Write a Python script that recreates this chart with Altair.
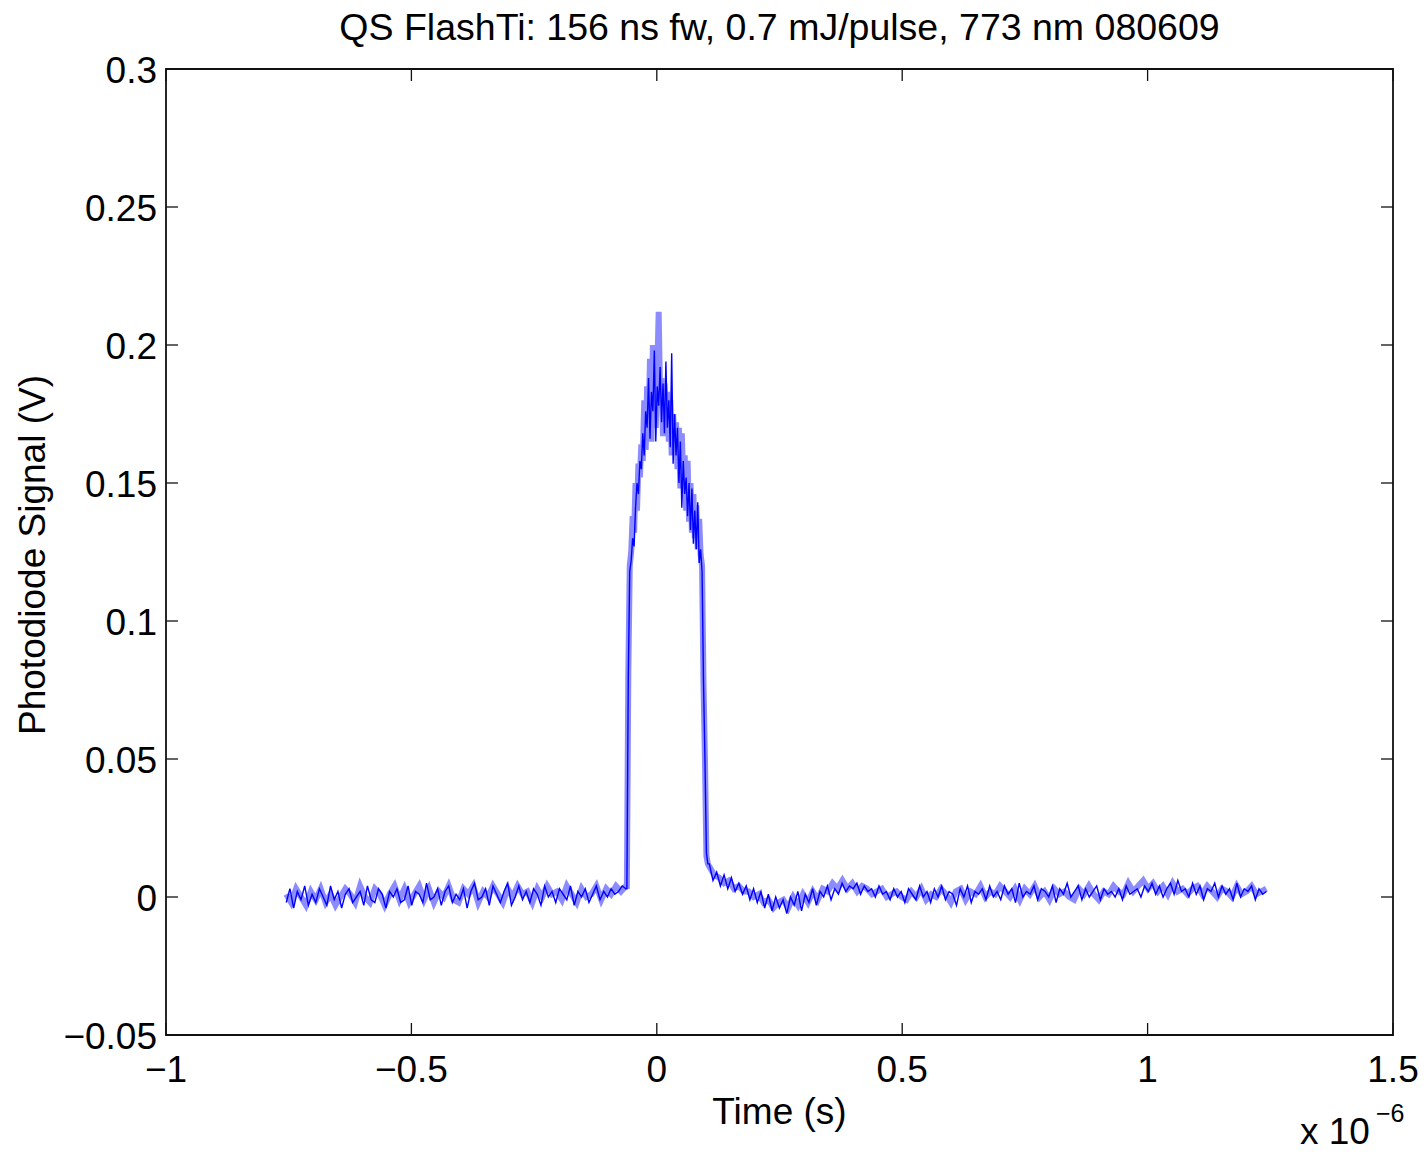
import altair as alt
import numpy as np
import pandas as pd

TITLE = "QS FlashTi: 156 ns fw, 0.7 mJ/pulse, 773 nm 080609"
X_TITLE = "Time (s)"
Y_TITLE = "Photodiode Signal (V)"
X_TICKS = [-1, -0.5, 0, 0.5, 1, 1.5]
Y_TICKS = [-0.05, 0, 0.05, 0.1, 0.15, 0.2, 0.25, 0.3]
X_DOMAIN = [-1, 1.5]
Y_DOMAIN = [-0.05, 0.3]
EXP_BASE = "x 10"
EXP_SUP = "\u22126"

# time spans of the three parts of the trace (units of 1e-6 s)
PRE_SPAN = (-0.755, -0.063)
PULSE_SPAN = (-0.061, 0.104)
POST_SPAN = (0.107, 1.242)

# dark (raw) trace, values in mV
dark_pre_mv = [-2, 3, -4, 2, -1, 4, -3, 1, -2, 3, 0, -3, 4, -1, 2, -4, 1, 3, -2, 0,
               2, -3, 4, -1, -2, 3, 1, -4, 2, 0, 3, -2, -1, 4, -3, 2, 1, -2, 5, -1,
               0, 3, -3, 2, 4, -2, 1, -1, 3, -4, 2, 5, -1, 0, 3, -3, 4, 1, -2, 2,
               5, -3, 0, 4, -1, 2, -2, 3, 1, -3, 4, 0, 2, -2, 3, 1, -1, 4, -3, 2,
               0, 3, -2, 1, 4, -1, 2, 0, 3, 1, 2, 4, 3]
dark_pulse_mv = [3, 80, 118, 122, 130, 127, 141, 150, 146, 158, 155, 168, 160, 176, 170,
                 188, 166, 183, 176, 198, 165, 185, 178, 192, 172, 186, 168, 194, 170, 180,
                 163, 197, 157, 175, 160, 170, 150, 165, 141, 158, 146, 152, 138, 150, 133,
                 148, 128, 140, 126, 143, 121, 126, 118, 78, 50, 16, 12]
dark_post_mv = [12, 6, 9, 4, 8, 3, 7, 2, 5, 1, 4, -1, 3, -2, 2, -4, 1, -5, 0,
                -4, -1, -6, 0, -3, 2, -5, 1, -2, 3, -3, 2, 0, 4, -1, 3, 1, 5, 2, 4,
                3, 5, 1, 4, 2, 3, 0, 4, 1, 2, -1, 3, 0, 2, -2, 3, 1, -1, 4, 0,
                2, -2, 3, 0, 4, -1, 2, 1, -3, 3, 0, 4, -2, 2, 1, 3, -1, 4, 0, 2,
                -1, 4, 1, 3, -2, 5, 0, 2, 1, 4, -1, 3, 2, 0, 4, -2, 3, 1, 5, 0,
                2, 4, -1, 3, 0, 2, 4, -1, 3, 1, 2, 0, 3, -1, 4, 1, 2, 3, 0, 4,
                2, 5, 1, 4, 0, 3, 5, 1, 6, 2, 3, 0, 5, 1, 4, -1, 3, 2, 5, 0,
                4, 1, 3, -1, 5, 0, 3, 2, 4, -1, 3, 1, 2]

# light (broad) trace, values in mV
light_pre_mv = [1, -2, 3, 0, -3, 2, -1, 3, -2, 1, -3, 0, 3, 1, -2, 4, 0, -2, 3, 1,
                -3, 1, 4, -1, 3, -2, 1, 4, -1, 3, -2, 2, 0, 4, -1, -2, 3, 1, 4, -2,
                2, 0, 4, 1, -2, 3, 0, 4, 1, 2, -2, 3, 0, 4, 1, 2, -1, 4, 1, -2,
                3, 0, 1, 4, -1, 3, 1, 4, 2, 4]
light_pulse_mv = [3, 80, 120, 125, 138, 132, 150, 140, 157, 152, 164, 158, 180, 162, 185,
                  172, 195, 165, 200, 178, 170, 190, 212, 180, 188, 167, 186, 170, 183, 165,
                  180, 160, 175, 162, 172, 155, 170, 148, 168, 150, 160, 140, 158, 136, 150,
                  132, 146, 130, 142, 126, 137, 124, 120, 77, 50, 15, 12]
light_post_mv = [11, 8, 7, 5, 6, 3, 4, 2, 2, 0, 1, -2, -1, -4, -2, -1, -4, 0, -3, 1,
                 -2, 2, -1, 3, 2, 5, 3, 6, 3, 5, 2, 4, 3, 1, 2, 3, 0, 1, 2, 0,
                 -1, 2, 0, 3, -1, 1, 0, 3, 1, -2, 2, 3, -1, 2, 1, 4, 0, 2, 1, 4,
                 2, 0, 3, -1, 3, 1, 4, 0, 2, -1, 3, 1, 2, 0, -1, 3, 1, 4, 1, -1,
                 2, 1, 4, 2, 1, 5, 2, 4, 6, 3, 5, 2, 4, 1, 5, 2, 3, 1, 3, 4,
                 1, 4, 2, 0, 3, 2, 0, 4, 1, 2, 4, 1, 2, 3]


def build(parts, name):
    rows = []
    for span, vals in parts:
        ts = np.linspace(span[0], span[1], len(vals))
        for t, v in zip(ts, vals):
            rows.append({"t": float(t), "v": v / 1000.0, "s": name})
    return rows


df_dark = pd.DataFrame(build([(PRE_SPAN, dark_pre_mv), (PULSE_SPAN, dark_pulse_mv),
                              (POST_SPAN, dark_post_mv)], "dark"))
df_light = pd.DataFrame(build([(PRE_SPAN, light_pre_mv), (PULSE_SPAN, light_pulse_mv),
                               (POST_SPAN, light_post_mv)], "light"))

W, H = 1227, 966
FONT = "Liberation Sans"
FS = 37
TICK_LEN = 12

xs = alt.Scale(domain=X_DOMAIN, nice=False, zero=False)
ys = alt.Scale(domain=Y_DOMAIN, nice=False, zero=False)

light = alt.Chart(df_light).mark_line(color="#0000ff", opacity=0.45, strokeWidth=6,
                                      clip=True).encode(
    x=alt.X("t:Q", scale=xs, axis=None),
    y=alt.Y("v:Q", scale=ys, axis=None),
)
dark = alt.Chart(df_dark).mark_line(color="#0000ff", strokeWidth=1.4, clip=True).encode(
    x=alt.X("t:Q", scale=xs, axis=None),
    y=alt.Y("v:Q", scale=ys, axis=None),
)

xt = pd.DataFrame({"t": X_TICKS})
yt = pd.DataFrame({"v": Y_TICKS})
tick_style = dict(color="#111111", strokeWidth=1.3)
xb = alt.Chart(xt).mark_rule(**tick_style).encode(
    x=alt.X("t:Q", scale=xs, axis=None), y=alt.value(H), y2=alt.value(H - TICK_LEN))
xtp = alt.Chart(xt).mark_rule(**tick_style).encode(
    x=alt.X("t:Q", scale=xs, axis=None), y=alt.value(0), y2=alt.value(TICK_LEN))
yl = alt.Chart(yt).mark_rule(**tick_style).encode(
    y=alt.Y("v:Q", scale=ys, axis=None), x=alt.value(0), x2=alt.value(TICK_LEN))
yr = alt.Chart(yt).mark_rule(**tick_style).encode(
    y=alt.Y("v:Q", scale=ys, axis=None), x=alt.value(W), x2=alt.value(W - TICK_LEN))

txt = dict(font=FONT, fontSize=FS, color="black")

# tick labels
x_labels = alt.Chart(xt).mark_text(align="center", baseline="alphabetic", **txt).encode(
    x=alt.X("t:Q", scale=xs, axis=None), y=alt.value(H + 47),
    text=alt.Text("t:Q", format="~g"))
y_labels = alt.Chart(yt).mark_text(align="right", baseline="alphabetic", dy=14,
                                   **txt).encode(
    y=alt.Y("v:Q", scale=ys, axis=None), x=alt.value(-9),
    text=alt.Text("v:Q", format="~g"))

# axis titles and chart title
x_title = alt.Chart(pd.DataFrame({"label": [X_TITLE]})).mark_text(
    align="center", baseline="alphabetic", **txt).encode(
    x=alt.value(W / 2), y=alt.value(H + 89), text="label:N")
y_title = alt.Chart(pd.DataFrame({"label": [Y_TITLE]})).mark_text(
    align="center", baseline="alphabetic", angle=270, **txt).encode(
    x=alt.value(-121), y=alt.value(H / 2 + 3), text="label:N")
main_title = alt.Chart(pd.DataFrame({"label": [TITLE]})).mark_text(
    align="center", baseline="alphabetic", font=FONT, fontSize=37.5, color="black").encode(
    x=alt.value(W / 2), y=alt.value(-29), text="label:N")

exp_base = alt.Chart(pd.DataFrame({"label": [EXP_BASE]})).mark_text(
    align="left", baseline="alphabetic", **txt).encode(
    x=alt.value(1134), y=alt.value(1075), text="label:N")
exp_sup = alt.Chart(pd.DataFrame({"label": [EXP_SUP]})).mark_text(
    font=FONT, fontSize=25, align="left", baseline="alphabetic", color="black").encode(
    x=alt.value(1210), y=alt.value(1053), text="label:N")

chart = alt.layer(light, dark, xb, xtp, yl, yr, x_labels, y_labels, x_title, y_title,
                  main_title, exp_base, exp_sup).properties(
    width=W, height=H,
    padding={"left": 166, "top": 69, "right": 31, "bottom": 118},
    autosize=alt.AutoSizeParams(type="none"),
).configure_view(
    stroke="#111111", strokeWidth=1.8
)

chart.save("out.html", embed_options={"renderer": "svg", "actions": False})
